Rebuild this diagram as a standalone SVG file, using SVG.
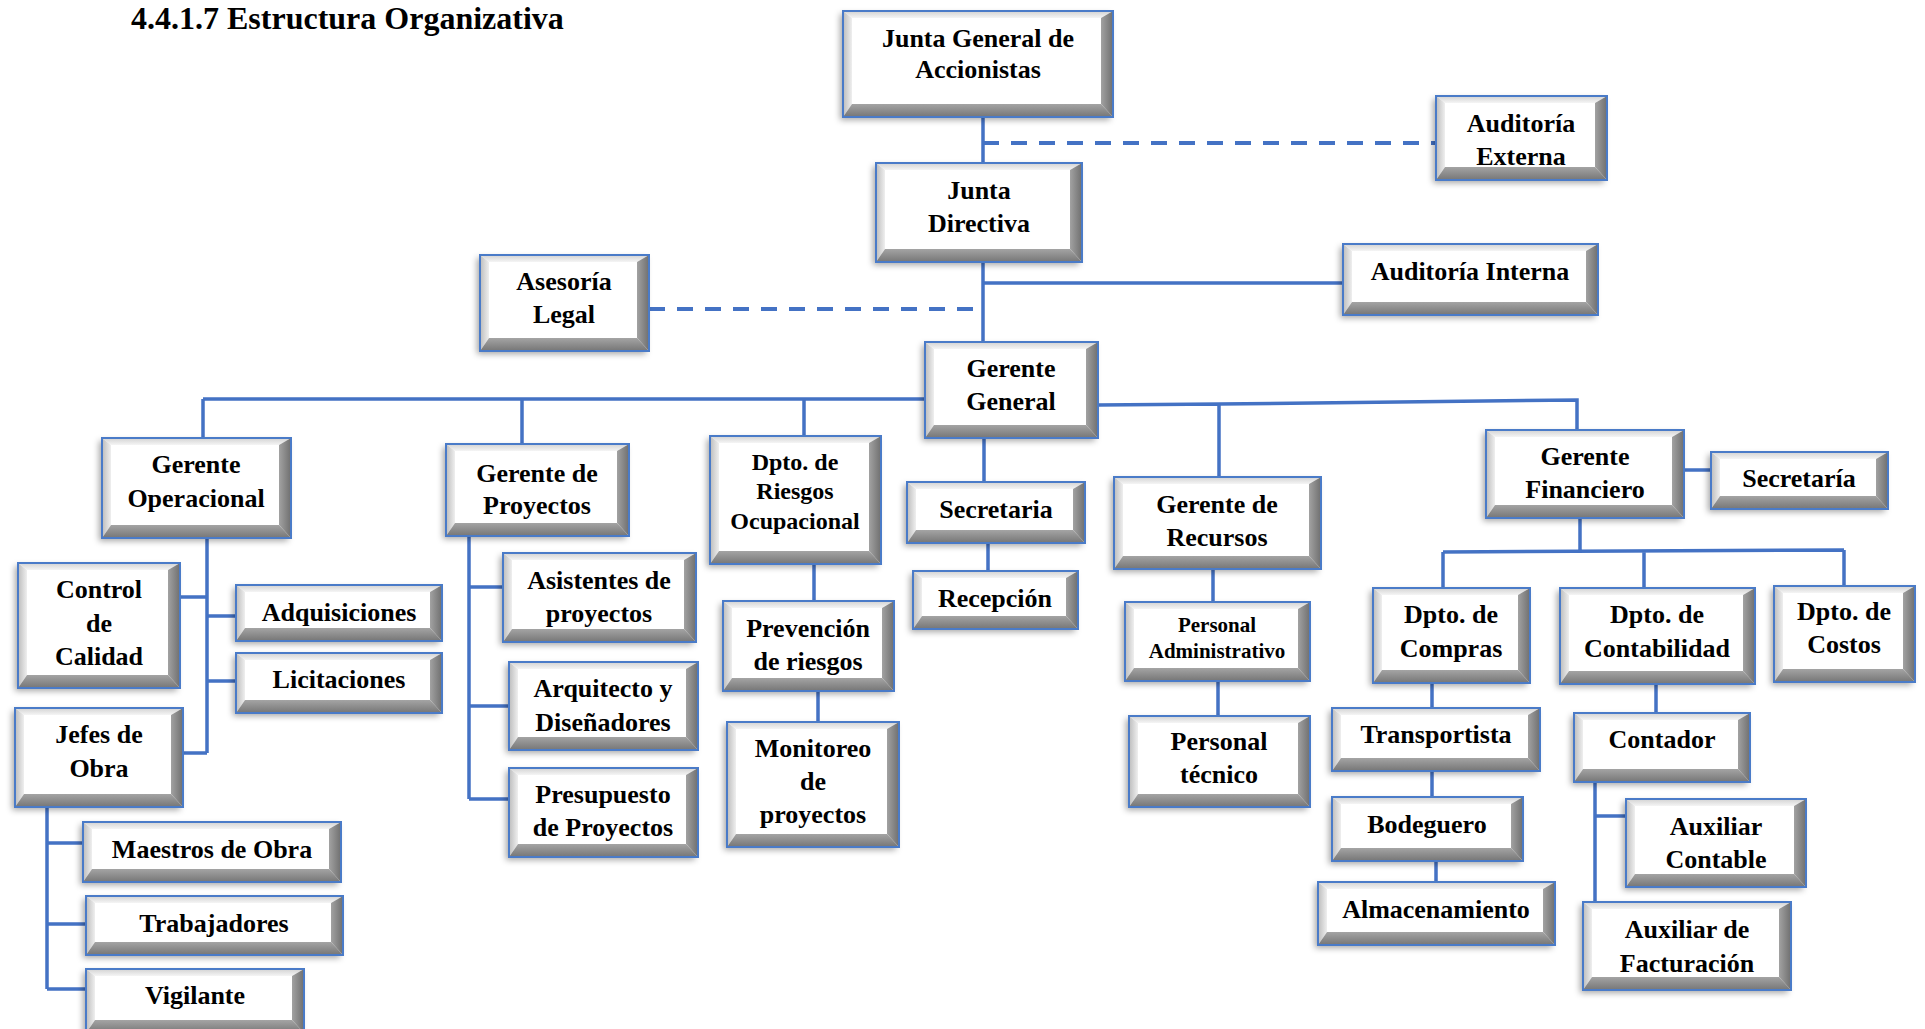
<svg xmlns="http://www.w3.org/2000/svg" width="1925" height="1029" viewBox="0 0 1925 1029">
<defs>
<filter id="ds" x="-10%" y="-10%" width="120%" height="130%"><feDropShadow dx="-3" dy="3" stdDeviation="3" flood-color="#000" flood-opacity="0.35"/></filter>
<linearGradient id="gT" x1="0" y1="0" x2="0" y2="1"><stop offset="0" stop-color="#d2d2d2"/><stop offset="1" stop-color="#f5f5f5"/></linearGradient>
<linearGradient id="gL" x1="0" y1="0" x2="1" y2="0"><stop offset="0" stop-color="#bcbcbc"/><stop offset="1" stop-color="#efefef"/></linearGradient>
<linearGradient id="gR" x1="0" y1="0" x2="1" y2="0"><stop offset="0" stop-color="#a2a2a2"/><stop offset="1" stop-color="#6f6f6f"/></linearGradient>
<linearGradient id="gB" x1="0" y1="0" x2="0" y2="1"><stop offset="0" stop-color="#a4a4a4"/><stop offset="1" stop-color="#767676"/></linearGradient>
</defs>
<style>
.sh{fill:#fff;filter:url(#ds)}
.bt{fill:url(#gT)} .bl{fill:url(#gL)} .br{fill:url(#gR)} .bb{fill:url(#gB)}
.bd{fill:none;stroke:#4a7bc8;stroke-width:2}
text{font-family:"Liberation Serif","Times New Roman",serif;font-weight:bold;font-size:26px;text-anchor:middle;fill:#000}
.s24{font-size:24px} .s21{font-size:21px}
.ln{stroke:#4472c4;stroke-width:3.5;fill:none}
.dl{stroke:#4472c4;stroke-width:4;stroke-dasharray:16 12;fill:none}
</style>
<rect width="1925" height="1029" fill="#fff"/>
<text x="131" y="29" style="font-size:32px;text-anchor:start">4.4.1.7 Estructura Organizativa</text>

<g id="connectors">
<path class="ln" d="M983 117V163M983 262V342M983 283H1343"/>
<path class="dl" d="M983 143H1436M649 309H976"/>
<path class="ln" d="M203 399H925M203 399V438M522 399V444M804 399V436"/>
<path class="ln" d="M1098 405L1219 404L1577 400V430M1219 404V477"/>
<path class="ln" d="M984 438V482M988 543V571"/>
<path class="ln" d="M207 538V753M175 597H207M207 616H236M207 681H236M174 753H207"/>
<path class="ln" d="M47 807V989M47 843H83M47 924H86M47 989H86"/>
<path class="ln" d="M469 536V799M469 587H503M469 706H509M469 799H509"/>
<path class="ln" d="M814 564V601M818 691V722"/>
<path class="ln" d="M1213 569V602M1218 681V716"/>
<path class="ln" d="M1684 470H1711M1580 518V552M1443 552L1844 550M1443 552V588M1644 551V588M1844 550V586"/>
<path class="ln" d="M1432 683V708M1432 771V797M1436 861V882M1656 684V713M1595 782V902M1595 816H1626"/>
</g>

<g id="jga"><rect class="sh" x="843" y="11" width="270" height="106"/><polygon class="bt" points="843,11 1113,11 1101,18 852,18"/><polygon class="bl" points="843,11 852,18 852,104 843,117"/><polygon class="br" points="1113,11 1113,117 1101,104 1101,18"/><polygon class="bb" points="843,117 852,104 1101,104 1113,117"/><rect class="bd" x="843" y="11" width="270" height="106"/><text x="978" y="47">Junta General de</text><text x="978" y="78">Accionistas</text></g>

<g id="aext"><rect class="sh" x="1436" y="96" width="171" height="84"/><polygon class="bt" points="1436,96 1607,96 1595,103 1445,103"/><polygon class="bl" points="1436,96 1445,103 1445,167 1436,180"/><polygon class="br" points="1607,96 1607,180 1595,167 1595,103"/><polygon class="bb" points="1436,180 1445,167 1595,167 1607,180"/><rect class="bd" x="1436" y="96" width="171" height="84"/><text x="1521" y="132">Auditoría</text><text x="1521" y="165">Externa</text></g>

<g id="jd"><rect class="sh" x="876" y="163" width="206" height="99"/><polygon class="bt" points="876,163 1082,163 1070,170 885,170"/><polygon class="bl" points="876,163 885,170 885,249 876,262"/><polygon class="br" points="1082,163 1082,262 1070,249 1070,170"/><polygon class="bb" points="876,262 885,249 1070,249 1082,262"/><rect class="bd" x="876" y="163" width="206" height="99"/><text x="979" y="199">Junta</text><text x="979" y="232">Directiva</text></g>

<g id="aint"><rect class="sh" x="1343" y="244" width="255" height="71"/><polygon class="bt" points="1343,244 1598,244 1586,251 1352,251"/><polygon class="bl" points="1343,244 1352,251 1352,302 1343,315"/><polygon class="br" points="1598,244 1598,315 1586,302 1586,251"/><polygon class="bb" points="1343,315 1352,302 1586,302 1598,315"/><rect class="bd" x="1343" y="244" width="255" height="71"/><text x="1470" y="280">Auditoría Interna</text></g>

<g id="alegal"><rect class="sh" x="480" y="255" width="169" height="96"/><polygon class="bt" points="480,255 649,255 637,262 489,262"/><polygon class="bl" points="480,255 489,262 489,338 480,351"/><polygon class="br" points="649,255 649,351 637,338 637,262"/><polygon class="bb" points="480,351 489,338 637,338 649,351"/><rect class="bd" x="480" y="255" width="169" height="96"/><text x="564" y="290">Asesoría</text><text x="564" y="323">Legal</text></g>

<g id="gg"><rect class="sh" x="925" y="342" width="173" height="96"/><polygon class="bt" points="925,342 1098,342 1086,349 934,349"/><polygon class="bl" points="925,342 934,349 934,425 925,438"/><polygon class="br" points="1098,342 1098,438 1086,425 1086,349"/><polygon class="bb" points="925,438 934,425 1086,425 1098,438"/><rect class="bd" x="925" y="342" width="173" height="96"/><text x="1011" y="377">Gerente</text><text x="1011" y="410">General</text></g>

<g id="gop"><rect class="sh" x="102" y="438" width="189" height="100"/><polygon class="bt" points="102,438 291,438 279,445 111,445"/><polygon class="bl" points="102,438 111,445 111,525 102,538"/><polygon class="br" points="291,438 291,538 279,525 279,445"/><polygon class="bb" points="102,538 111,525 279,525 291,538"/><rect class="bd" x="102" y="438" width="189" height="100"/><text x="196" y="473">Gerente</text><text x="196" y="507">Operacional</text></g>

<g id="ccal"><rect class="sh" x="18" y="563" width="162" height="125"/><polygon class="bt" points="18,563 180,563 168,570 27,570"/><polygon class="bl" points="18,563 27,570 27,675 18,688"/><polygon class="br" points="180,563 180,688 168,675 168,570"/><polygon class="bb" points="18,688 27,675 168,675 180,688"/><rect class="bd" x="18" y="563" width="162" height="125"/><text x="99" y="598">Control</text><text x="99" y="632">de</text><text x="99" y="665">Calidad</text></g>

<g id="adq"><rect class="sh" x="236" y="585" width="206" height="56"/><polygon class="bt" points="236,585 442,585 430,592 245,592"/><polygon class="bl" points="236,585 245,592 245,628 236,641"/><polygon class="br" points="442,585 442,641 430,628 430,592"/><polygon class="bb" points="236,641 245,628 430,628 442,641"/><rect class="bd" x="236" y="585" width="206" height="56"/><text x="339" y="621">Adquisiciones</text></g>

<g id="lic"><rect class="sh" x="236" y="653" width="206" height="60"/><polygon class="bt" points="236,653 442,653 430,660 245,660"/><polygon class="bl" points="236,653 245,660 245,700 236,713"/><polygon class="br" points="442,653 442,713 430,700 430,660"/><polygon class="bb" points="236,713 245,700 430,700 442,713"/><rect class="bd" x="236" y="653" width="206" height="60"/><text x="339" y="688">Licitaciones</text></g>

<g id="jobra"><rect class="sh" x="15" y="708" width="168" height="99"/><polygon class="bt" points="15,708 183,708 171,715 24,715"/><polygon class="bl" points="15,708 24,715 24,794 15,807"/><polygon class="br" points="183,708 183,807 171,794 171,715"/><polygon class="bb" points="15,807 24,794 171,794 183,807"/><rect class="bd" x="15" y="708" width="168" height="99"/><text x="99" y="743">Jefes de</text><text x="99" y="777">Obra</text></g>

<g id="maes"><rect class="sh" x="83" y="822" width="258" height="60"/><polygon class="bt" points="83,822 341,822 329,829 92,829"/><polygon class="bl" points="83,822 92,829 92,869 83,882"/><polygon class="br" points="341,822 341,882 329,869 329,829"/><polygon class="bb" points="83,882 92,869 329,869 341,882"/><rect class="bd" x="83" y="822" width="258" height="60"/><text x="212" y="858">Maestros de Obra</text></g>

<g id="trab"><rect class="sh" x="86" y="896" width="257" height="59"/><polygon class="bt" points="86,896 343,896 331,903 95,903"/><polygon class="bl" points="86,896 95,903 95,942 86,955"/><polygon class="br" points="343,896 343,955 331,942 331,903"/><polygon class="bb" points="86,955 95,942 331,942 343,955"/><rect class="bd" x="86" y="896" width="257" height="59"/><text x="214" y="932">Trabajadores</text></g>

<g id="vig"><rect class="sh" x="86" y="969" width="218" height="64"/><polygon class="bt" points="86,969 304,969 292,976 95,976"/><polygon class="bl" points="86,969 95,976 95,1020 86,1033"/><polygon class="br" points="304,969 304,1033 292,1020 292,976"/><polygon class="bb" points="86,1033 95,1020 292,1020 304,1033"/><rect class="bd" x="86" y="969" width="218" height="64"/><text x="195" y="1004">Vigilante</text></g>

<g id="gproy"><rect class="sh" x="446" y="444" width="183" height="92"/><polygon class="bt" points="446,444 629,444 617,451 455,451"/><polygon class="bl" points="446,444 455,451 455,523 446,536"/><polygon class="br" points="629,444 629,536 617,523 617,451"/><polygon class="bb" points="446,536 455,523 617,523 629,536"/><rect class="bd" x="446" y="444" width="183" height="92"/><text x="537" y="482">Gerente de</text><text x="537" y="514">Proyectos</text></g>

<g id="asis"><rect class="sh" x="503" y="553" width="193" height="89"/><polygon class="bt" points="503,553 696,553 684,560 512,560"/><polygon class="bl" points="503,553 512,560 512,629 503,642"/><polygon class="br" points="696,553 696,642 684,629 684,560"/><polygon class="bb" points="503,642 512,629 684,629 696,642"/><rect class="bd" x="503" y="553" width="193" height="89"/><text x="599" y="589">Asistentes de</text><text x="599" y="622">proyectos</text></g>

<g id="arq"><rect class="sh" x="509" y="662" width="189" height="88"/><polygon class="bt" points="509,662 698,662 686,669 518,669"/><polygon class="bl" points="509,662 518,669 518,737 509,750"/><polygon class="br" points="698,662 698,750 686,737 686,669"/><polygon class="bb" points="509,750 518,737 686,737 698,750"/><rect class="bd" x="509" y="662" width="189" height="88"/><text x="603" y="697">Arquitecto y</text><text x="603" y="731">Diseñadores</text></g>

<g id="pres"><rect class="sh" x="509" y="768" width="189" height="89"/><polygon class="bt" points="509,768 698,768 686,775 518,775"/><polygon class="bl" points="509,768 518,775 518,844 509,857"/><polygon class="br" points="698,768 698,857 686,844 686,775"/><polygon class="bb" points="509,857 518,844 686,844 698,857"/><rect class="bd" x="509" y="768" width="189" height="89"/><text x="603" y="803">Presupuesto</text><text x="603" y="836">de Proyectos</text></g>

<g id="riesg"><rect class="sh" x="710" y="436" width="171" height="128"/><polygon class="bt" points="710,436 881,436 869,443 719,443"/><polygon class="bl" points="710,436 719,443 719,551 710,564"/><polygon class="br" points="881,436 881,564 869,551 869,443"/><polygon class="bb" points="710,564 719,551 869,551 881,564"/><rect class="bd" x="710" y="436" width="171" height="128"/><text class="s24" x="795" y="470">Dpto. de</text><text class="s24" x="795" y="499">Riesgos</text><text class="s24" x="795" y="529">Ocupacional</text></g>

<g id="prev"><rect class="sh" x="723" y="601" width="171" height="90"/><polygon class="bt" points="723,601 894,601 882,608 732,608"/><polygon class="bl" points="723,601 732,608 732,678 723,691"/><polygon class="br" points="894,601 894,691 882,678 882,608"/><polygon class="bb" points="723,691 732,678 882,678 894,691"/><rect class="bd" x="723" y="601" width="171" height="90"/><text x="808" y="637">Prevención</text><text x="808" y="670">de riesgos</text></g>

<g id="mon"><rect class="sh" x="727" y="722" width="172" height="125"/><polygon class="bt" points="727,722 899,722 887,729 736,729"/><polygon class="bl" points="727,722 736,729 736,834 727,847"/><polygon class="br" points="899,722 899,847 887,834 887,729"/><polygon class="bb" points="727,847 736,834 887,834 899,847"/><rect class="bd" x="727" y="722" width="172" height="125"/><text x="813" y="757">Monitoreo</text><text x="813" y="790">de</text><text x="813" y="823">proyectos</text></g>

<g id="secr"><rect class="sh" x="907" y="482" width="178" height="61"/><polygon class="bt" points="907,482 1085,482 1073,489 916,489"/><polygon class="bl" points="907,482 916,489 916,530 907,543"/><polygon class="br" points="1085,482 1085,543 1073,530 1073,489"/><polygon class="bb" points="907,543 916,530 1073,530 1085,543"/><rect class="bd" x="907" y="482" width="178" height="61"/><text x="996" y="518">Secretaria</text></g>

<g id="recep"><rect class="sh" x="913" y="571" width="165" height="58"/><polygon class="bt" points="913,571 1078,571 1066,578 922,578"/><polygon class="bl" points="913,571 922,578 922,616 913,629"/><polygon class="br" points="1078,571 1078,629 1066,616 1066,578"/><polygon class="bb" points="913,629 922,616 1066,616 1078,629"/><rect class="bd" x="913" y="571" width="165" height="58"/><text x="995" y="607">Recepción</text></g>

<g id="grec"><rect class="sh" x="1114" y="477" width="207" height="92"/><polygon class="bt" points="1114,477 1321,477 1309,484 1123,484"/><polygon class="bl" points="1114,477 1123,484 1123,556 1114,569"/><polygon class="br" points="1321,477 1321,569 1309,556 1309,484"/><polygon class="bb" points="1114,569 1123,556 1309,556 1321,569"/><rect class="bd" x="1114" y="477" width="207" height="92"/><text x="1217" y="513">Gerente de</text><text x="1217" y="546">Recursos</text></g>

<g id="padm"><rect class="sh" x="1125" y="602" width="185" height="79"/><polygon class="bt" points="1125,602 1310,602 1298,609 1134,609"/><polygon class="bl" points="1125,602 1134,609 1134,668 1125,681"/><polygon class="br" points="1310,602 1310,681 1298,668 1298,609"/><polygon class="bb" points="1125,681 1134,668 1298,668 1310,681"/><rect class="bd" x="1125" y="602" width="185" height="79"/><text class="s21" x="1217" y="632">Personal</text><text class="s21" x="1217" y="658">Administrativo</text></g>

<g id="ptec"><rect class="sh" x="1129" y="716" width="181" height="91"/><polygon class="bt" points="1129,716 1310,716 1298,723 1138,723"/><polygon class="bl" points="1129,716 1138,723 1138,794 1129,807"/><polygon class="br" points="1310,716 1310,807 1298,794 1298,723"/><polygon class="bb" points="1129,807 1138,794 1298,794 1310,807"/><rect class="bd" x="1129" y="716" width="181" height="91"/><text x="1219" y="750">Personal</text><text x="1219" y="783">técnico</text></g>

<g id="gfin"><rect class="sh" x="1486" y="430" width="198" height="88"/><polygon class="bt" points="1486,430 1684,430 1672,437 1495,437"/><polygon class="bl" points="1486,430 1495,437 1495,505 1486,518"/><polygon class="br" points="1684,430 1684,518 1672,505 1672,437"/><polygon class="bb" points="1486,518 1495,505 1672,505 1684,518"/><rect class="bd" x="1486" y="430" width="198" height="88"/><text x="1585" y="465">Gerente</text><text x="1585" y="498">Financiero</text></g>

<g id="secf"><rect class="sh" x="1711" y="452" width="177" height="57"/><polygon class="bt" points="1711,452 1888,452 1876,459 1720,459"/><polygon class="bl" points="1711,452 1720,459 1720,496 1711,509"/><polygon class="br" points="1888,452 1888,509 1876,496 1876,459"/><polygon class="bb" points="1711,509 1720,496 1876,496 1888,509"/><rect class="bd" x="1711" y="452" width="177" height="57"/><text x="1799" y="487">Secretaría</text></g>

<g id="dcomp"><rect class="sh" x="1373" y="588" width="157" height="95"/><polygon class="bt" points="1373,588 1530,588 1518,595 1382,595"/><polygon class="bl" points="1373,588 1382,595 1382,670 1373,683"/><polygon class="br" points="1530,588 1530,683 1518,670 1518,595"/><polygon class="bb" points="1373,683 1382,670 1518,670 1530,683"/><rect class="bd" x="1373" y="588" width="157" height="95"/><text x="1451" y="623">Dpto. de</text><text x="1451" y="657">Compras</text></g>

<g id="dcont"><rect class="sh" x="1560" y="588" width="195" height="96"/><polygon class="bt" points="1560,588 1755,588 1743,595 1569,595"/><polygon class="bl" points="1560,588 1569,595 1569,671 1560,684"/><polygon class="br" points="1755,588 1755,684 1743,671 1743,595"/><polygon class="bb" points="1560,684 1569,671 1743,671 1755,684"/><rect class="bd" x="1560" y="588" width="195" height="96"/><text x="1657" y="623">Dpto. de</text><text x="1657" y="657">Contabilidad</text></g>

<g id="dcost"><rect class="sh" x="1774" y="586" width="141" height="96"/><polygon class="bt" points="1774,586 1915,586 1903,593 1783,593"/><polygon class="bl" points="1774,586 1783,593 1783,669 1774,682"/><polygon class="br" points="1915,586 1915,682 1903,669 1903,593"/><polygon class="bb" points="1774,682 1783,669 1903,669 1915,682"/><rect class="bd" x="1774" y="586" width="141" height="96"/><text x="1844" y="620">Dpto. de</text><text x="1844" y="653">Costos</text></g>

<g id="transp"><rect class="sh" x="1332" y="708" width="208" height="63"/><polygon class="bt" points="1332,708 1540,708 1528,715 1341,715"/><polygon class="bl" points="1332,708 1341,715 1341,758 1332,771"/><polygon class="br" points="1540,708 1540,771 1528,758 1528,715"/><polygon class="bb" points="1332,771 1341,758 1528,758 1540,771"/><rect class="bd" x="1332" y="708" width="208" height="63"/><text x="1436" y="743">Transportista</text></g>

<g id="bodeg"><rect class="sh" x="1332" y="797" width="191" height="64"/><polygon class="bt" points="1332,797 1523,797 1511,804 1341,804"/><polygon class="bl" points="1332,797 1341,804 1341,848 1332,861"/><polygon class="br" points="1523,797 1523,861 1511,848 1511,804"/><polygon class="bb" points="1332,861 1341,848 1511,848 1523,861"/><rect class="bd" x="1332" y="797" width="191" height="64"/><text x="1427" y="833">Bodeguero</text></g>

<g id="almac"><rect class="sh" x="1318" y="882" width="237" height="63"/><polygon class="bt" points="1318,882 1555,882 1543,889 1327,889"/><polygon class="bl" points="1318,882 1327,889 1327,932 1318,945"/><polygon class="br" points="1555,882 1555,945 1543,932 1543,889"/><polygon class="bb" points="1318,945 1327,932 1543,932 1555,945"/><rect class="bd" x="1318" y="882" width="237" height="63"/><text x="1436" y="918">Almacenamiento</text></g>

<g id="cont"><rect class="sh" x="1574" y="713" width="176" height="69"/><polygon class="bt" points="1574,713 1750,713 1738,720 1583,720"/><polygon class="bl" points="1574,713 1583,720 1583,769 1574,782"/><polygon class="br" points="1750,713 1750,782 1738,769 1738,720"/><polygon class="bb" points="1574,782 1583,769 1738,769 1750,782"/><rect class="bd" x="1574" y="713" width="176" height="69"/><text x="1662" y="748">Contador</text></g>

<g id="auxc"><rect class="sh" x="1626" y="799" width="180" height="88"/><polygon class="bt" points="1626,799 1806,799 1794,806 1635,806"/><polygon class="bl" points="1626,799 1635,806 1635,874 1626,887"/><polygon class="br" points="1806,799 1806,887 1794,874 1794,806"/><polygon class="bb" points="1626,887 1635,874 1794,874 1806,887"/><rect class="bd" x="1626" y="799" width="180" height="88"/><text x="1716" y="835">Auxiliar</text><text x="1716" y="868">Contable</text></g>

<g id="auxf"><rect class="sh" x="1583" y="902" width="208" height="88"/><polygon class="bt" points="1583,902 1791,902 1779,909 1592,909"/><polygon class="bl" points="1583,902 1592,909 1592,977 1583,990"/><polygon class="br" points="1791,902 1791,990 1779,977 1779,909"/><polygon class="bb" points="1583,990 1592,977 1779,977 1791,990"/><rect class="bd" x="1583" y="902" width="208" height="88"/><text x="1687" y="938">Auxiliar de</text><text x="1687" y="972">Facturación</text></g>
</svg>
